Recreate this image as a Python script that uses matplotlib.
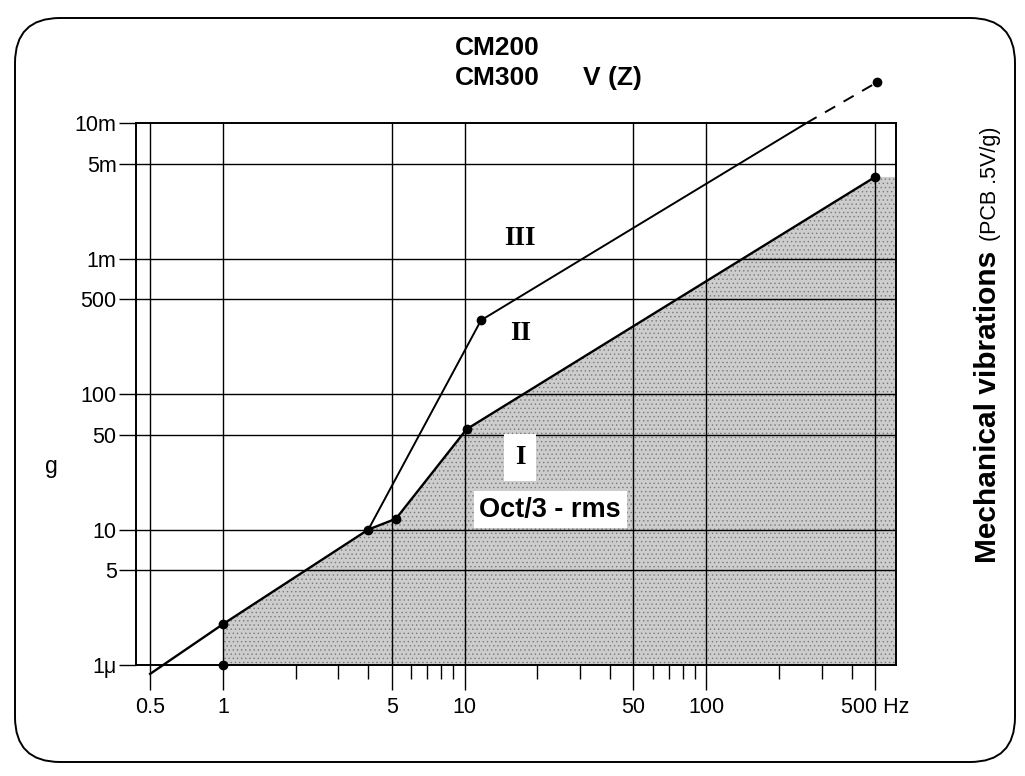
import matplotlib
matplotlib.use("Agg")
import matplotlib.pyplot as plt
from matplotlib.patches import FancyBboxPatch
from matplotlib.ticker import FixedLocator, FixedFormatter, NullLocator, NullFormatter
from matplotlib.transforms import Affine2D

plt.rcParams["font.family"] = ["Liberation Sans", "DejaVu Sans"]
plt.rcParams["hatch.linewidth"] = 0.5

# axis ticks / labels (frequency in Hz, acceleration in g)
x_major = [0.5, 1, 5, 10, 50, 100, 500]
x_labels = ["0.5", "1", "5", "10", "50", "100", "500 Hz"]
x_minor = [2, 3, 4, 6, 7, 8, 9, 20, 30, 40, 60, 70, 80, 90, 200, 300, 400]
y_major = [1e-6, 5e-6, 1e-5, 5e-5, 1e-4, 5e-4, 1e-3, 5e-3, 1e-2]
y_labels = ["1\u03bc", "5", "10", "50", "100", "500", "1m", "5m", "10m"]

# upper boundary of zone I (starts with the sloped line from 0.5 Hz)
bound_f = [0.5, 1, 4, 5.2, 10.2, 500]
bound_g = [0.86e-6, 2e-6, 1e-5, 1.2e-5, 5.5e-5, 4e-3]
# line between zone II and III
div_f = [4, 11.7]
div_g = [1e-5, 3.5e-4]
# upper line of zone III: solid inside the frame, dashed beyond it
top_f = [11.7, 260]
top_g = [3.5e-4, 1e-2]
ext_f = [260, 510]
ext_g = [1e-2, 2e-2]

XMIN, XMAX = 0.437, 610
YMIN, YMAX = 1e-6, 1e-2

W, H = 1025, 776
fig = plt.figure(figsize=(W / 100, H / 100), dpi=100)
ax = fig.add_axes([136 / W, 111 / H, 760 / W, 542 / H])
ax.set_xscale("log")
ax.set_yscale("log")
ax.set_xlim(XMIN, XMAX)
ax.set_ylim(YMIN, YMAX)

# stippled zone I
shade_f = bound_f[1:] + [XMAX, XMAX, bound_f[1]]
shade_g = bound_g[1:] + [bound_g[-1], YMIN, YMIN]
ax.fill(shade_f, shade_g, facecolor="#cdcdcd", edgecolor="#7a7a7a",
        hatch="....", linewidth=0, zorder=1)

# grid
for xv in x_major:
    ax.axvline(xv, color="k", lw=1.0, zorder=2)
for yv in y_major[1:-1]:
    ax.axhline(yv, color="k", lw=1.0, zorder=2)

# curves
ax.plot(bound_f, bound_g, color="k", lw=1.7, zorder=3, clip_on=False)
ax.plot(div_f, div_g, color="k", lw=1.4, zorder=3)
ax.plot(top_f, top_g, color="k", lw=1.4, zorder=3)
ax.plot(ext_f, ext_g, color="k", lw=1.4, ls=(0, (6, 5)), zorder=3, clip_on=False)

dots_f = [bound_f[1], bound_f[1]] + bound_f[2:] + [div_f[1], ext_f[1]]
dots_g = [YMIN, bound_g[1]] + bound_g[2:] + [div_g[1], ext_g[1]]
ax.plot(dots_f, dots_g, "o", color="k", ms=6, zorder=4, clip_on=False)

# zone labels
roman = dict(family=["Liberation Serif", "DejaVu Serif"], weight="bold",
             size=19.5, ha="center", va="center", zorder=5)
ax.text(17, 1.4e-3, "III", **roman)
ax.text(17, 2.8e-4, "II", **roman)
ax.text(17, 3.4e-5, "I", bbox=dict(facecolor="white", edgecolor="none",
                                   boxstyle="square,pad=0.4"), **roman)
ax.text(22.6, 1.4e-5, "Oct/3 - rms", size=19.5, weight="bold", ha="center",
        va="center", zorder=5,
        bbox=dict(facecolor="white", edgecolor="none", pad=4))

# axes styling
ax.xaxis.set_major_locator(FixedLocator(x_major))
ax.xaxis.set_major_formatter(FixedFormatter(x_labels))
ax.xaxis.set_minor_locator(FixedLocator(x_minor))
ax.xaxis.set_minor_formatter(NullFormatter())
ax.yaxis.set_major_locator(FixedLocator(y_major))
ax.yaxis.set_major_formatter(FixedFormatter(y_labels))
ax.yaxis.set_minor_locator(NullLocator())
ax.tick_params(axis="x", which="major", direction="out", length=18, width=1.0,
               pad=5, labelsize=15.5)
ax.tick_params(axis="x", which="minor", direction="out", length=10, width=1.0)
ax.tick_params(axis="y", which="major", direction="out", length=12, width=1.0,
               pad=2, labelsize=15.5)
for sp in ax.spines.values():
    sp.set_linewidth(1.4)
    sp.set_zorder(6)

# titles and side labels
fig.text(455 / W, 1 - 48 / H, "CM200", size=19, weight="bold", va="center")
fig.text(455 / W, 1 - 78 / H, "CM300", size=19, weight="bold", va="center")
fig.text(583 / W, 1 - 78 / H, "V (Z)", size=19, weight="bold", va="center")
fig.text(51 / W, 1 - 466 / H, "g", size=16.5, ha="center", va="center")
fig.text(996 / W, 1 - 563 / H, "Mechanical vibrations", size=21.5, weight="bold",
         rotation=90, rotation_mode="anchor", ha="left", va="baseline")
fig.text(996 / W, 1 - 241 / H, "(PCB .5V/g)", size=15.5,
         rotation=90, rotation_mode="anchor", ha="left", va="baseline")

# rounded frame around the whole card (pixel units)
px = Affine2D().scale(0.01) + fig.dpi_scale_trans
card = FancyBboxPatch((15, 14), 1000, 744, boxstyle="round,pad=0,rounding_size=45",
                      facecolor="none", edgecolor="k", lw=1.4, transform=px)
fig.patches.append(card)

fig.savefig("out.png", dpi=100)
